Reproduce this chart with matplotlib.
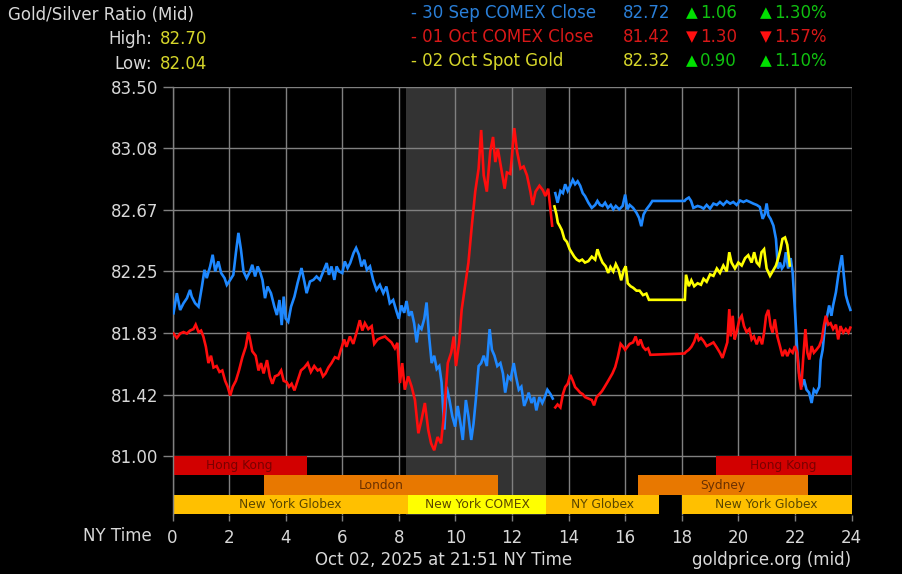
import numpy as np
import matplotlib
matplotlib.use("Agg")
import matplotlib.pyplot as plt

# ---------------- data ----------------
blue_hours_a = [0.035, 0.153, 0.27, 0.39, 0.51, 0.62, 0.68, 0.80, 0.92, 1.04, 1.13, 1.21, 1.33, 1.42, 1.51,
                1.62, 1.72, 1.84, 1.92, 2.04, 2.15, 2.24, 2.33, 2.42, 2.51, 2.62, 2.74, 2.82, 2.92, 3.01,
                3.09, 3.18, 3.27, 3.36, 3.48, 3.60, 3.69, 3.78, 3.86, 3.93, 4.0, 4.09, 4.19, 4.31, 4.42,
                4.56, 4.66, 4.74, 4.86, 4.98, 5.09, 5.21, 5.33, 5.45, 5.53, 5.62, 5.72, 5.80, 5.89, 6.0,
                6.09, 6.19, 6.28, 6.40, 6.49, 6.59, 6.68, 6.78, 6.87, 6.98, 7.09, 7.21, 7.33, 7.45, 7.56,
                7.68, 7.80, 7.92, 8.0, 8.09, 8.19, 8.27, 8.36, 8.45, 8.54, 8.63, 8.71, 8.80, 8.90, 8.98,
                9.07, 9.16, 9.25, 9.34, 9.43, 9.51, 9.61, 9.69, 9.79, 9.89, 9.99, 10.08, 10.18, 10.26,
                10.37, 10.46, 10.56, 10.64, 10.72, 10.82, 10.91, 11.0, 11.11, 11.21, 11.29, 11.38, 11.48,
                11.59, 11.68, 11.76, 11.86, 11.95, 12.06, 12.14, 12.24, 12.33, 12.43, 12.51, 12.59, 12.69,
                12.78, 12.86, 12.97, 13.07, 13.16, 13.25, 13.36, 13.44]
blue_values_a = [81.967, 82.103, 81.989, 82.035, 82.069, 82.125, 82.080, 82.035, 82.012, 82.148, 82.261, 82.205,
                 82.284, 82.363, 82.25, 82.318, 82.239, 82.205, 82.159, 82.193, 82.227, 82.375, 82.511, 82.397,
                 82.25, 82.205, 82.25, 82.295, 82.216, 82.284, 82.25, 82.193, 82.069, 82.148, 82.103, 82.012,
                 81.955, 82.057, 81.887, 82.080, 81.932, 81.910, 82.012, 82.080, 82.171, 82.273, 82.182, 82.103,
                 82.182, 82.193, 82.216, 82.193, 82.25, 82.307, 82.227, 82.284, 82.193, 82.284, 82.25, 82.239,
                 82.318, 82.273, 82.307, 82.375, 82.409, 82.363, 82.284, 82.329, 82.261, 82.284, 82.193, 82.125,
                 82.159, 82.103, 82.148, 82.035, 82.057, 81.978, 81.93, 82.02, 81.97, 82.05, 81.95, 81.98,
                 81.90, 81.77, 81.88, 81.86, 81.93, 82.04, 81.81, 81.63, 81.68, 81.59, 81.61, 81.50, 81.18,
                 81.47, 81.38, 81.27, 81.20, 81.34, 81.22, 81.11, 81.38, 81.27, 81.11, 81.22, 81.38, 81.61,
                 81.63, 81.68, 81.61, 81.86, 81.72, 81.68, 81.61, 81.63, 81.56, 81.43, 81.54, 81.52, 81.63,
                 81.54, 81.45, 81.47, 81.34, 81.38, 81.43, 81.36, 81.40, 81.31, 81.40, 81.36, 81.40, 81.45,
                 81.42, 81.39]

blue_hours_b = [13.53, 13.61, 13.71, 13.80, 13.88, 13.97, 14.06, 14.15, 14.23, 14.32, 14.41, 14.50, 14.58,
                14.70, 14.82, 14.94, 15.02, 15.11, 15.20, 15.29, 15.39, 15.49, 15.58, 15.67, 15.79, 15.91,
                16.0, 16.08, 16.16, 16.28, 16.40, 16.49, 16.57, 16.65, 16.75, 16.87, 16.96, 18.10, 18.15,
                18.25, 18.33, 18.41, 18.56, 18.68, 18.77, 18.88, 19.0, 19.12, 19.24, 19.35, 19.47, 19.59,
                19.71, 19.82, 19.94, 20.06, 20.18, 20.29, 20.41, 20.53, 20.65, 20.76, 20.86, 20.94, 21.0,
                21.06, 21.14, 21.24, 21.33, 21.40, 21.47, 21.54, 21.61, 21.68, 21.76, 21.85, 21.92, 22.0,
                22.08, 22.15, 22.24, 22.32, 22.41, 22.50, 22.59, 22.67, 22.76, 22.86, 22.91, 22.98, 23.06,
                23.14, 23.21, 23.29, 23.35, 23.45, 23.53, 23.59, 23.66, 23.73, 23.80, 23.87, 23.96]
blue_values_b = [82.78, 82.715, 82.795, 82.78, 82.84, 82.795, 82.83, 82.87, 82.84, 82.86, 82.83, 82.78, 82.76,
                 82.715, 82.68, 82.70, 82.727, 82.70, 82.693, 82.715, 82.68, 82.70, 82.67, 82.693, 82.67,
                 82.693, 82.77, 82.67, 82.70, 82.68, 82.647, 82.613, 82.556, 82.635, 82.67, 82.70, 82.727,
                 82.727, 82.738, 82.75, 82.727, 82.68, 82.693, 82.686, 82.675, 82.70, 82.675, 82.709, 82.70,
                 82.72, 82.70, 82.725, 82.709, 82.72, 82.70, 82.73, 82.72, 82.73, 82.72, 82.709, 82.70, 82.686,
                 82.606, 82.64, 82.71, 82.63, 82.606, 82.56, 82.47, 82.27, 82.31, 82.27, 82.29, 82.38, 82.27,
                 82.34, 82.24, 81.99, 81.72, 81.56, 81.47, 81.52, 81.45, 81.43, 81.36, 81.45, 81.43, 81.47,
                 81.65, 81.72, 81.88, 81.95, 82.02, 81.95, 82.02, 82.11, 82.22, 82.29, 82.36, 82.22, 82.09,
                 82.04, 81.99]

red_hours_a = [0.035, 0.153, 0.27, 0.39, 0.51, 0.62, 0.74, 0.82, 0.92, 1.01, 1.09, 1.18, 1.27, 1.36, 1.45,
               1.56, 1.66, 1.76, 1.86, 1.95, 2.04, 2.13, 2.24, 2.35, 2.47, 2.59, 2.68, 2.74, 2.82, 2.94, 3.04,
               3.13, 3.22, 3.34, 3.44, 3.53, 3.62, 3.74, 3.84, 3.93, 4.04, 4.12, 4.21, 4.31, 4.42, 4.54, 4.66,
               4.78, 4.89, 5.01, 5.13, 5.22, 5.32, 5.41, 5.51, 5.62, 5.74, 5.86, 5.95, 6.07, 6.15, 6.27, 6.39,
               6.51, 6.62, 6.71, 6.80, 6.92, 7.04, 7.13, 7.25, 7.36, 7.51, 7.62, 7.74, 7.86, 7.95, 8.04, 8.12,
               8.21, 8.33, 8.45, 8.57, 8.69, 8.80, 8.92, 9.04, 9.14, 9.25, 9.37, 9.49, 9.61, 9.73, 9.85, 9.94,
               10.02, 10.13, 10.22, 10.34, 10.46, 10.58, 10.70, 10.82, 10.91, 11.0, 11.11, 11.23, 11.33,
               11.41, 11.50, 11.62, 11.74, 11.82, 11.94, 12.0, 12.08, 12.18, 12.30, 12.41, 12.53, 12.65,
               12.73, 12.83, 12.97, 13.09, 13.18, 13.28, 13.36, 13.42]
red_values_a = [81.83, 81.80, 81.83, 81.84, 81.83, 81.85, 81.86, 81.89, 81.84, 81.85, 81.81, 81.74, 81.63,
                81.68, 81.60, 81.61, 81.57, 81.58, 81.51, 81.47, 81.41, 81.47, 81.51, 81.58, 81.67, 81.74,
                81.84, 81.79, 81.71, 81.68, 81.58, 81.63, 81.56, 81.65, 81.54, 81.49, 81.54, 81.55, 81.58,
                81.51, 81.50, 81.47, 81.49, 81.445, 81.51, 81.58, 81.60, 81.63, 81.57, 81.61, 81.58, 81.59,
                81.54, 81.56, 81.60, 81.63, 81.67, 81.66, 81.72, 81.79, 81.74, 81.81, 81.76, 81.84, 81.92,
                81.85, 81.90, 81.86, 81.88, 81.76, 81.79, 81.80, 81.81, 81.79, 81.77, 81.73, 81.767, 81.495,
                81.63, 81.45, 81.54, 81.472, 81.38, 81.155, 81.245, 81.36, 81.177, 81.087, 81.04, 81.13,
                81.087, 81.31, 81.63, 81.70, 81.81, 81.61, 81.767, 81.99, 82.15, 82.31, 82.56, 82.79, 82.946,
                83.207, 82.90, 82.79, 83.06, 83.16, 82.99, 83.08, 82.946, 82.81, 82.92, 82.91, 83.037, 83.22,
                83.06, 82.946, 82.96, 82.90, 82.79, 82.70, 82.79, 82.83, 82.80, 82.76, 82.81, 82.67, 82.56]

red_hours_b = [13.53, 13.61, 13.71, 13.80, 13.88, 13.97, 14.06, 14.15, 14.23, 14.32, 14.41, 14.50, 14.58,
               14.70, 14.82, 14.90, 14.99, 15.09, 15.18, 15.27, 15.37, 15.46, 15.55, 15.65, 15.74, 15.84,
               15.93, 16.0, 16.08, 16.16, 16.28, 16.37, 16.46, 16.54, 16.63, 16.72, 16.81, 16.89, 18.10,
               18.15, 18.25, 18.34, 18.44, 18.53, 18.60, 18.68, 18.77, 18.88, 19.0, 19.12, 19.24, 19.35,
               19.44, 19.53, 19.61, 19.68, 19.73, 19.80, 19.87, 19.94, 20.04, 20.12, 20.20, 20.29, 20.39,
               20.47, 20.55, 20.65, 20.74, 20.84, 20.91, 20.98, 21.06, 21.14, 21.21, 21.29, 21.38, 21.47,
               21.56, 21.65, 21.73, 21.82, 21.92, 22.0, 22.08, 22.15, 22.22, 22.29, 22.37, 22.44, 22.51,
               22.59, 22.67, 22.76, 22.86, 22.95, 23.02, 23.09, 23.18, 23.26, 23.35, 23.45, 23.53, 23.61,
               23.71, 23.80, 23.89, 23.96]
red_values_b = [81.33, 81.35, 81.33, 81.42, 81.468, 81.49, 81.55, 81.51, 81.468, 81.45, 81.43, 81.42, 81.40,
                81.39, 81.38, 81.344, 81.40, 81.42, 81.44, 81.468, 81.50, 81.53, 81.56, 81.604, 81.67, 81.76,
                81.74, 81.72, 81.74, 81.76, 81.77, 81.81, 81.75, 81.79, 81.74, 81.72, 81.73, 81.686, 81.695,
                81.706, 81.72, 81.74, 81.775, 81.83, 81.786, 81.80, 81.78, 81.745, 81.757, 81.77, 81.735,
                81.70, 81.665, 81.72, 81.77, 81.995, 81.81, 81.95, 81.79, 81.84, 81.926, 81.95, 81.88, 81.84,
                81.86, 81.79, 81.81, 81.757, 81.81, 81.757, 81.836, 81.95, 81.99, 81.88, 81.836, 81.926,
                81.81, 81.745, 81.677, 81.72, 81.677, 81.72, 81.70, 81.745, 81.70, 81.54, 81.45, 81.654,
                81.86, 81.70, 81.654, 81.745, 81.70, 81.72, 81.745, 81.79, 81.88, 81.95, 81.89, 81.90, 81.86,
                81.89, 81.79, 81.88, 81.836, 81.86, 81.836, 81.87]

yellow_hours = [13.5, 13.57, 13.62, 13.68, 13.76, 13.85, 13.94, 14.04, 14.12, 14.20, 14.29, 14.38, 14.48,
                14.58, 14.70, 14.82, 14.94, 15.02, 15.11, 15.20, 15.31, 15.40, 15.48, 15.58, 15.67, 15.77,
                15.86, 15.95, 16.02, 16.09, 16.19, 16.28, 16.40, 16.51, 16.63, 16.75, 16.84, 18.11, 18.15,
                18.25, 18.34, 18.44, 18.56, 18.68, 18.77, 18.88, 19.0, 19.12, 19.24, 19.35, 19.47, 19.59,
                19.68, 19.76, 19.88, 20.0, 20.12, 20.24, 20.35, 20.47, 20.56, 20.65, 20.74, 20.82, 20.91,
                21.0, 21.12, 21.21, 21.33, 21.41, 21.49, 21.56, 21.65, 21.73, 21.82]
yellow_values = [82.69, 82.636, 82.58, 82.56, 82.53, 82.47, 82.45, 82.40, 82.375, 82.35, 82.33, 82.32, 82.33,
                 82.31, 82.32, 82.35, 82.33, 82.40, 82.35, 82.31, 82.285, 82.24, 82.28, 82.25, 82.30, 82.26,
                 82.19, 82.26, 82.285, 82.17, 82.15, 82.14, 82.12, 82.12, 82.09, 82.10, 82.058, 82.058,
                 82.228, 82.15, 82.19, 82.15, 82.17, 82.16, 82.20, 82.18, 82.23, 82.22, 82.27, 82.24, 82.29,
                 82.25, 82.38, 82.31, 82.27, 82.31, 82.29, 82.34, 82.36, 82.31, 82.38, 82.31, 82.29, 82.38,
                 82.40, 82.27, 82.22, 82.25, 82.29, 82.34, 82.40, 82.47, 82.48, 82.43, 82.29]

y_tick_values = [81.0, 81.4167, 81.8333, 82.25, 82.6667, 83.0833, 83.5]
y_tick_labels = ["81.00", "81.42", "81.83", "82.25", "82.67", "83.08", "83.50"]
x_tick_values = [0, 2, 4, 6, 8, 10, 12, 14, 16, 18, 20, 22, 24]

session_names = ["Hong Kong", "Hong Kong", "London", "Sydney",
                 "New York Globex", "New York COMEX", "NY Globex", "New York Globex"]
session_start = [0, 19.2, 3.25, 16.45, 0, 8.33, 13.2, 18.0]
session_end = [4.75, 24, 11.5, 22.45, 8.33, 13.2, 17.2, 24]
session_row = [0, 0, 1, 1, 2, 2, 2, 2]
comex_shade = (8.25, 13.2)

legend_labels = ["- 30 Sep COMEX Close", "- 01 Oct COMEX Close", "- 02 Oct Spot Gold"]
legend_values = ["82.72", "81.42", "82.32"]
legend_changes = ["1.06", "1.30", "0.90"]
legend_pcts = ["1.30%", "1.57%", "1.10%"]
legend_up = [True, False, True]

# ---------------- style ----------------
BG = "#000000"
GRID = "#808080"
BLUE = "#1e88ff"
RED = "#ff0d0d"
YEL = "#ffff00"
TXT = "#d8d8d8"
HDR_YEL = "#d6d62a"
HDR_BLUE = "#2a7fd8"
HDR_RED = "#d81818"
GREEN_TRI = "#00e000"
GREEN_TXT = "#10c010"

row_colors = ["#d20000", "#e87800", "#ffc000"]
row_text_colors = ["#7a0000", "#6a3000", "#5a4600"]
COMEX_COLOR = "#ffff00"

FS = 12

W, H = 902, 574
fig = plt.figure(figsize=(W / 100, H / 100), dpi=100, facecolor=BG)

y_top = 83.5
px_per_unit = 147.8
ax_top_px, ax_bot_px = 86.7, 515
y_bot = y_top - (ax_bot_px - ax_top_px) / px_per_unit
left_px, right_px = 172.5, 851.5
ax = fig.add_axes([left_px / W, 1 - ax_bot_px / H, (right_px - left_px) / W, (ax_bot_px - ax_top_px) / H])
ax.set_facecolor(BG)
ax.set_xlim(0, 24)
ax.set_ylim(y_bot, y_top)

# shaded COMEX hours
ax.axvspan(comex_shade[0], comex_shade[1], color="#333333", zorder=0, lw=0)

# grid
for yv in y_tick_values:
    ax.axhline(yv, color=GRID, lw=1.0, zorder=1)
for xv in x_tick_values:
    ax.axvline(xv, color=GRID, lw=1.0, zorder=1)

# session bars
row_h = 0.1305
for name, s, e, r in zip(session_names, session_start, session_end, session_row):
    y0 = 81.0 - (r + 1) * row_h
    col = COMEX_COLOR if "COMEX" in name else row_colors[r]
    ax.barh(y0 + row_h / 2, e - s, left=s, height=row_h, color=col, lw=0, zorder=2)
    ax.text((s + e) / 2, y0 + row_h / 2, name, ha="center", va="center",
            fontsize=8.8, color=row_text_colors[r], zorder=3)

# lines
lw = 1.9
ax.plot(blue_hours_a, blue_values_a, color=BLUE, lw=lw, zorder=4, solid_joinstyle="miter")
ax.plot(blue_hours_b, blue_values_b, color=BLUE, lw=lw, zorder=4, solid_joinstyle="miter")
ax.plot(red_hours_a, red_values_a, color=RED, lw=lw, zorder=5, solid_joinstyle="miter")
ax.plot(red_hours_b, red_values_b, color=RED, lw=lw, zorder=5, solid_joinstyle="miter")
ax.plot(yellow_hours, yellow_values, color=YEL, lw=lw, zorder=6, solid_joinstyle="miter")

# axes ticks
for sp in ["top", "right", "bottom"]:
    ax.spines[sp].set_visible(False)
ax.spines["left"].set_color(GRID)
ax.spines["left"].set_linewidth(1.0)
ax.set_yticks(y_tick_values)
ax.set_yticklabels(y_tick_labels)
ax.set_xticks(x_tick_values)
ax.set_xticklabels([str(v) for v in x_tick_values])
ax.tick_params(axis="y", length=7, width=1, color=GRID, colors=TXT, labelsize=FS, pad=3)
ax.tick_params(axis="x", length=4, width=1, color=GRID, colors=TXT, labelsize=FS, pad=6)
for lab in ax.get_yticklabels() + ax.get_xticklabels():
    lab.set_color(TXT)

def fx(px):
    return px / W

def fy(py):
    return 1 - py / H

fig.text(fx(152), fy(536), "NY Time", ha="right", va="center", fontsize=FS, color=TXT)
fig.text(fx(444), fy(560), "Oct 02, 2025 at 21:51 NY Time", ha="center", va="center", fontsize=FS, color=TXT)
fig.text(fx(851), fy(560), "goldprice.org (mid)", ha="right", va="center", fontsize=FS, color=TXT)

# header left
fig.text(fx(8), fy(15), "Gold/Silver Ratio (Mid)", ha="left", va="center", fontsize=FS, color=TXT)
fig.text(fx(152), fy(39), "High:", ha="right", va="center", fontsize=FS, color=TXT)
fig.text(fx(160), fy(39), "82.70", ha="left", va="center", fontsize=FS, color=HDR_YEL)
fig.text(fx(152), fy(64), "Low:", ha="right", va="center", fontsize=FS, color=TXT)
fig.text(fx(160), fy(64), "82.04", ha="left", va="center", fontsize=FS, color=HDR_YEL)

# header right
row_y = [13, 37, 61]
label_cols = [HDR_BLUE, HDR_RED, HDR_YEL]
for i in range(3):
    y = fy(row_y[i])
    c = label_cols[i]
    fig.text(fx(411), y, legend_labels[i], ha="left", va="center", fontsize=FS, color=c)
    fig.text(fx(670), y, legend_values[i], ha="right", va="center", fontsize=FS, color=c)
    tri = "▲" if legend_up[i] else "▼"
    tri_col = GREEN_TRI if legend_up[i] else "#ff1010"
    txt_col = GREEN_TXT if legend_up[i] else HDR_RED
    fig.text(fx(686), y, tri, ha="left", va="center", fontsize=11, color=tri_col)
    fig.text(fx(700), y, legend_changes[i], ha="left", va="center", fontsize=FS, color=txt_col)
    fig.text(fx(760), y, tri, ha="left", va="center", fontsize=11, color=tri_col)
    fig.text(fx(774), y, legend_pcts[i], ha="left", va="center", fontsize=FS, color=txt_col)

fig.savefig("out.png", dpi=100, facecolor=BG)
